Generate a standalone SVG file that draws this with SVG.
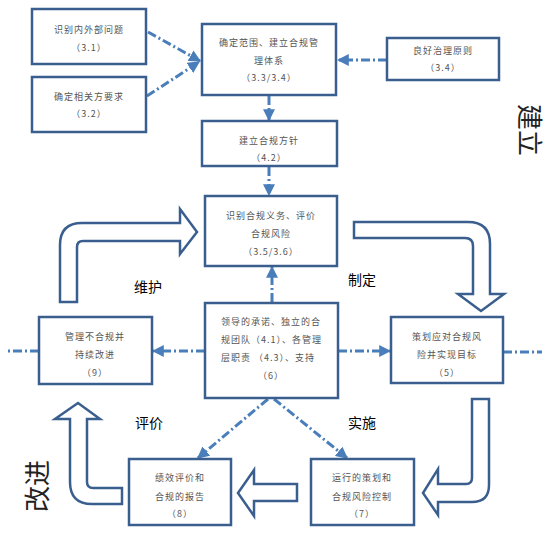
<svg xmlns="http://www.w3.org/2000/svg" width="558" height="535" viewBox="0 0 558 535">
<defs>
<marker id="ah" viewBox="0 0 10 10" refX="9" refY="5" markerWidth="4" markerHeight="4" orient="auto" markerUnits="strokeWidth">
<path d="M0,0 L10,5 L0,10 Z" fill="#4A7EBB"/>
</marker>
<style>
.box{fill:#fff;stroke:#3A5F8F;stroke-width:2.5}
.blk{fill:#fff;stroke:#3A5F8F;stroke-width:2.5;stroke-linejoin:miter}
.t{font-family:"Noto Sans CJK SC","Liberation Sans",sans-serif;font-size:9px;fill:#555;letter-spacing:1px;text-anchor:middle}
.tl{font-family:"Noto Sans CJK SC","Liberation Sans",sans-serif;font-size:9px;fill:#555;letter-spacing:1px}
.lab{font-family:"Noto Sans CJK SC","Liberation Sans",sans-serif;font-size:14px;fill:#000;text-anchor:middle}
.big{font-family:"Noto Sans CJK SC","Liberation Sans",sans-serif;font-size:26px;fill:#222;text-anchor:middle}
.c{fill:none;stroke:#4A7EBB;stroke-width:3;stroke-dasharray:9,3,2,3}
.ca{fill:none;stroke:#4A7EBB;stroke-width:3;stroke-dasharray:9,3,2,3;marker-end:url(#ah)}
</style>
</defs>
<rect width="558" height="535" fill="#fff"/>

<g id="connectors">
<line class="ca" x1="148" y1="32" x2="200" y2="61"/>
<line class="ca" x1="147" y1="96" x2="199" y2="62"/>
<line class="ca" x1="387" y1="60" x2="338" y2="60"/>
<line class="ca" x1="269" y1="96" x2="269" y2="120"/>
<line class="ca" x1="269" y1="167" x2="269" y2="195"/>
<line class="ca" x1="272" y1="302" x2="272" y2="267"/>
<line class="ca" x1="205" y1="351" x2="153" y2="351"/>
<line class="ca" x1="338" y1="351" x2="390" y2="351"/>
<line class="c" x1="39" y1="351" x2="5" y2="351"/>
<line class="c" x1="503" y1="352" x2="542" y2="352"/>
<line class="ca" x1="268" y1="399" x2="198" y2="458"/>
<line class="ca" x1="274" y1="399" x2="347" y2="458"/>
</g>

<g id="arrow-maintain"><path class="blk" d="M60,302 L60,245 Q60,223 82,223 L180,223 L180,209 L197,232 L180,254 L180,241 L83,241 Q77,241 77,247 L77,302 Z"/></g>
<g id="arrow-formulate"><path class="blk" d="M354,222 L468,222 Q490,222 490,244 L490,294 L504,294 L481,311 L458,294 L473,294 L473,246 Q473,238 465,238 L354,238 Z"/></g>
<g id="arrow-implement"><path class="blk" d="M472,399 L489,399 L489,485 Q489,502 472,502 L438,502 L438,515 L423,493 L438,469 L438,484 L466,484 Q472,484 472,478 Z"/></g>
<g id="arrow-evaluate"><path class="blk" d="M297,484 L254,484 L254,470 L238,493 L254,516 L254,501 L297,501 Z"/></g>
<g id="arrow-improve"><path class="blk" d="M122,488 L93,488 Q87,488 87,482 L87,419 L100,419 L78,403 L55,419 L70,419 L70,482 Q70,504 92,504 L122,504 Z"/></g>

<g id="n31"><rect class="box" x="32" y="9" width="114" height="55"/>
<text class="t" x="89" y="33">识别内外部问题</text><text class="t" x="89" y="51">（3.1）</text></g>

<g id="n32"><rect class="box" x="32" y="77" width="114" height="55"/>
<text class="t" x="89" y="100">确定相关方要求</text><text class="t" x="89" y="117">（3.2）</text></g>

<g id="n33"><rect class="box" x="202" y="24" width="134" height="71"/>
<text class="t" x="269" y="46">确定范围、建立合规管</text><text class="t" x="269" y="64">理体系</text><text class="t" x="269" y="81">（3.3/3.4）</text></g>

<g id="n34"><rect class="box" x="387" y="38" width="112" height="42"/>
<text class="t" x="443" y="54">良好治理原则</text><text class="t" x="443" y="71">（3.4）</text></g>

<g id="n42"><rect class="box" x="202" y="121" width="135" height="45"/>
<text class="t" x="269" y="144">建立合规方针</text><text class="t" x="269" y="161">（4.2）</text></g>

<g id="n35"><rect class="box" x="205" y="196" width="132" height="70"/>
<text class="t" x="271" y="219">识别合规义务、评价</text><text class="t" x="271" y="237">合规风险</text><text class="t" x="271" y="255">（3.5/3.6）</text></g>

<g id="n6"><rect class="box" x="205" y="303" width="133" height="95"/>
<text class="tl" x="221" y="325">领导的承诺、独立的合</text><text class="tl" x="221" y="343">规团队（4.1）、各管理</text><text class="tl" x="221" y="361">层职责 （4.3）、支持</text><text class="t" x="271" y="379">（6）</text></g>

<g id="n9"><rect class="box" x="39" y="317" width="113" height="67"/>
<text class="t" x="95" y="340">管理不合规并</text><text class="t" x="95" y="358">持续改进</text><text class="t" x="95" y="376">（9）</text></g>

<g id="n5"><rect class="box" x="391" y="317" width="112" height="66"/>
<text class="t" x="447" y="340">策划应对合规风</text><text class="t" x="447" y="358">险并实现目标</text><text class="t" x="447" y="376">（5）</text></g>

<g id="n8"><rect class="box" x="129" y="459" width="102" height="66"/>
<text class="t" x="180" y="481">绩效评价和</text><text class="t" x="180" y="500">合规的报告</text><text class="t" x="180" y="517">（8）</text></g>

<g id="n7"><rect class="box" x="311" y="459" width="103" height="66"/>
<text class="t" x="362" y="481">运行的策划和</text><text class="t" x="362" y="500">合规风险控制</text><text class="t" x="362" y="517">（7）</text></g>

<g id="labels">
<text class="lab" x="148" y="292">维护</text>
<text class="lab" x="362" y="285">制定</text>
<text class="lab" x="149" y="428">评价</text>
<text class="lab" x="362" y="428">实施</text>
<text class="big" transform="translate(529,130) rotate(90)" y="9">建立</text>
<text class="big" transform="translate(38,486) rotate(-90)" y="9">改进</text>
</g>
</svg>
